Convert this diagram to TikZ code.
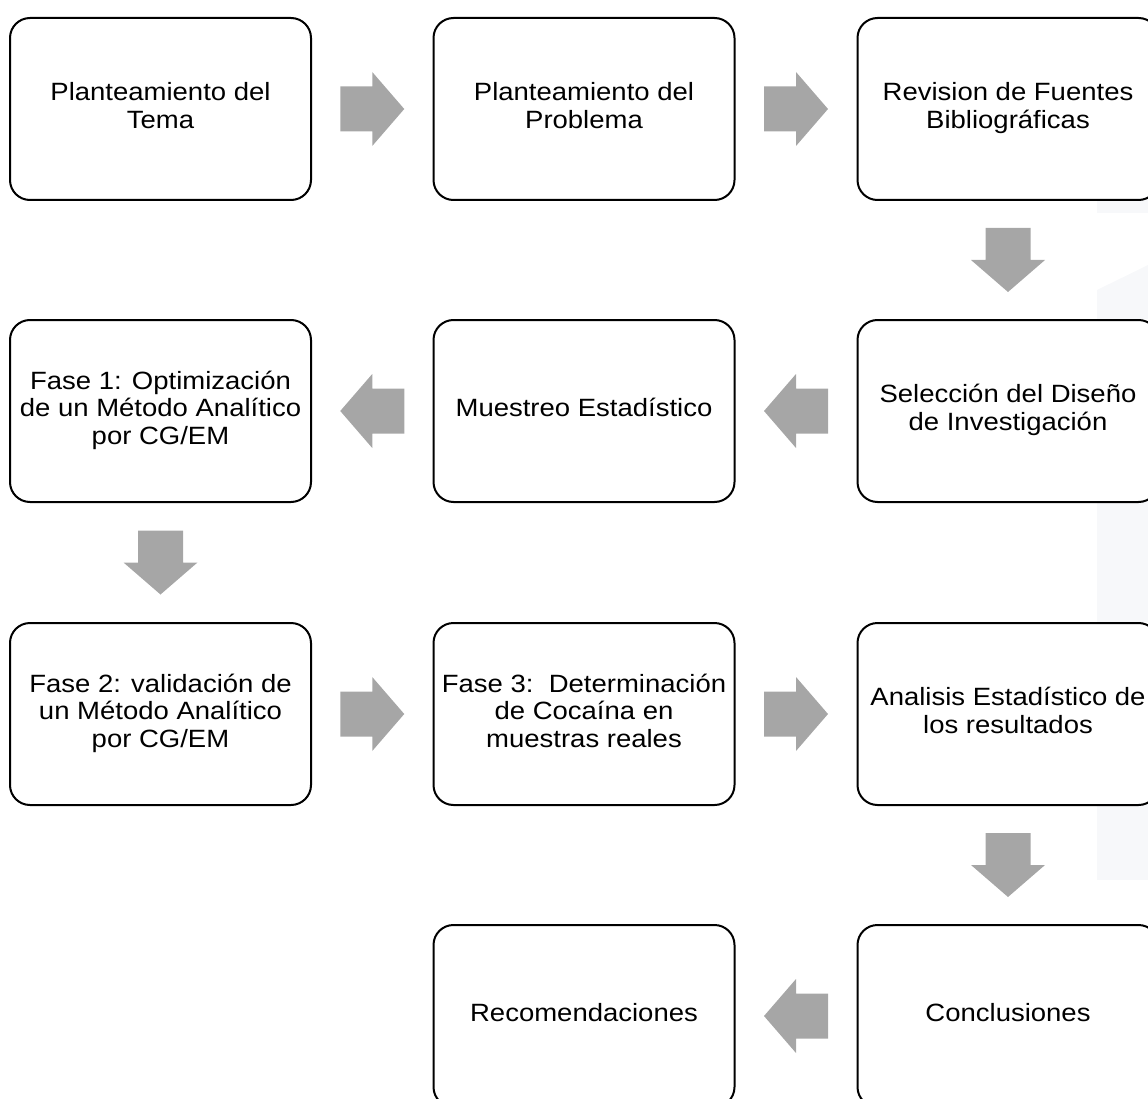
\documentclass[tikz,border=0pt]{standalone}
\usepackage{fontspec}
\setmainfont{Liberation Sans}
\usepackage{graphicx}
\usepackage{xcolor}
\usetikzlibrary{calc}

\definecolor{arrgray}{RGB}{166,166,166}
\definecolor{wmgray}{RGB}{247,248,250}
\newcommand{\stxt}[1]{\scalebox{1.1}[1]{\begin{tabular}{@{}c@{}}#1\end{tabular}}}

\tikzset{
stepbox/.style={draw,line width=2pt,rounded corners=20pt,fill=white,minimum width=301pt,minimum height=182pt,inner sep=0pt,font=\fontsize{25}{27.5}\selectfont},
rarr/.pic={\fill[arrgray] (-32,-22.5)--(0,-22.5)--(0,-37)--(32,0)--(0,37)--(0,22.5)--(-32,22.5)--cycle;},
larr/.pic={\fill[arrgray] (32,-22.5)--(0,-22.5)--(0,-37)--(-32,0)--(0,37)--(0,22.5)--(32,22.5)--cycle;},
darr/.pic={\fill[arrgray] (-22.5,-32)--(22.5,-32)--(22.5,0)--(37,0)--(0,32)--(-37,0)--(-22.5,0)--cycle;}
}

\begin{document}
\begin{tikzpicture}[x=1pt,y=-1pt]
\useasboundingbox (0,0) rectangle (1148,1099);
% faint marks on the right edge
\fill[wmgray] (1097,199) rectangle (1148,213);
\fill[wmgray] (1097,290)--(1148,265)--(1148,319)--(1097,319)--cycle;
\fill[wmgray] (1097,501) rectangle (1148,622);
\fill[wmgray] (1097,804) rectangle (1148,880);

\node[stepbox] at (160.5,109) (tema){\stxt{Planteamiento del\\Tema}};
\node[stepbox] at (584,109) (problema){\stxt{Planteamiento del\\Problema}};
\node[stepbox] at (1008,109) (fuentes){\stxt{Revision de Fuentes\\Bibliográficas}};
\node[stepbox] at (1008,411) (diseno){\stxt{Selección del Diseño\\de Investigación}};
\node[stepbox] at (584,411) (muestreo){\stxt{Muestreo Estadístico}};
\node[stepbox] at (160.5,411) (fase1){\stxt{Fase 1: Optimización\\de un Método Analítico\\por CG/EM}};
\node[stepbox] at (160.5,714) (fase2){\stxt{Fase 2: validación de\\un Método Analítico\\por CG/EM}};
\node[stepbox] at (584,714) (fase3){\stxt{Fase 3:\ \ Determinación\\de Cocaína en\\muestras reales}};
\node[stepbox] at (1008,714) (analisis){\stxt{Analisis Estadístico de\\los resultados}};
\node[stepbox] at (1008,1016) (conclus){\stxt{Conclusiones}};
\node[stepbox] at (584,1016) (recom){\stxt{Recomendaciones}};

\pic at ($(tema.east)!.5!(problema.west)$) {rarr};
\pic at ($(problema.east)!.5!(fuentes.west)$) {rarr};
\pic at ($(fuentes.south)!.5!(diseno.north)$) {darr};
\pic at ($(diseno.west)!.5!(muestreo.east)$) {larr};
\pic at ($(muestreo.west)!.5!(fase1.east)$) {larr};
\pic at ($(fase1.south)!.5!(fase2.north)$) {darr};
\pic at ($(fase2.east)!.5!(fase3.west)$) {rarr};
\pic at ($(fase3.east)!.5!(analisis.west)$) {rarr};
\pic at ($(analisis.south)!.5!(conclus.north)$) {darr};
\pic at ($(conclus.west)!.5!(recom.east)$) {larr};
\end{tikzpicture}
\end{document}
